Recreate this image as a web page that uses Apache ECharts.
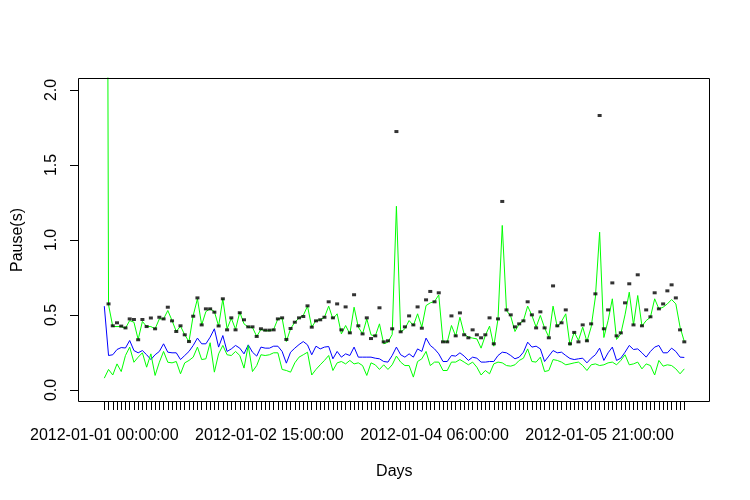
<!DOCTYPE html>
<html><head><meta charset="utf-8">
<script src="https://cdn.jsdelivr.net/npm/echarts@6/dist/echarts.min.js"></script>
<style>html,body{margin:0;padding:0;background:#fff}#c{width:750px;height:500px}</style>
</head><body><div id="c"></div>
<script>
// ---- data ----
const startTime = '2012-01-01T00:00:00Z';
const hourCount = 138;
const labelEvery = 39;
const yTicks = [0, 0.5, 1, 1.5, 2];

const points = [null,0.574,0.428,0.448,0.426,0.414,0.474,0.47,0.335,0.47,0.423,0.48,0.408,0.485,0.474,0.552,0.461,0.39,0.428,0.368,
0.323,0.492,0.614,0.434,0.541,0.541,0.519,0.427,0.608,0.401,0.481,0.401,0.515,0.468,0.421,0.421,0.357,0.408,0.399,0.399,
0.401,0.474,0.481,0.337,0.41,0.452,0.481,0.49,0.561,0.419,0.461,0.468,0.485,0.588,0.481,0.574,0.401,0.554,0.381,0.635,
0.428,0.374,0.481,0.343,0.361,0.548,0.321,0.328,0.408,1.723,0.388,0.421,0.494,0.434,0.554,0.412,0.601,0.657,0.588,0.648,
0.321,0.321,0.494,0.361,0.514,0.368,0.348,0.401,0.368,0.348,0.368,0.481,0.308,0.474,1.257,0.534,0.501,0.421,0.441,0.461,
0.588,0.501,0.414,0.521,0.414,0.348,0.694,0.428,0.448,0.534,0.308,0.384,0.321,0.434,0.328,0.441,0.641,1.83,0.408,0.534,
0.714,0.361,0.381,0.581,0.708,0.434,0.768,0.428,0.534,0.488,0.648,0.541,0.574,0.661,0.701,0.614,0.401,0.321];

const upper = [10.8,0.568,0.423,0.423,0.423,0.412,0.463,0.452,0.337,0.457,0.423,0.423,0.408,0.474,0.474,0.53,0.463,0.39,0.426,0.368,
0.323,0.497,0.608,0.434,0.523,0.541,0.523,0.426,0.608,0.408,0.479,0.404,0.519,0.441,0.419,0.417,0.357,0.404,0.395,0.395,
0.404,0.474,0.479,0.323,0.408,0.452,0.479,0.497,0.559,0.419,0.463,0.468,0.485,0.559,0.474,0.508,0.374,0.43,0.374,0.552,
0.419,0.374,0.474,0.368,0.359,0.441,0.308,0.319,0.37,1.225,0.386,0.408,0.463,0.43,0.508,0.419,0.563,0.581,0.59,0.634,
0.323,0.319,0.43,0.359,0.485,0.374,0.352,0.346,0.341,0.279,0.363,0.426,0.292,0.474,1.097,0.53,0.492,0.39,0.441,0.463,
0.559,0.497,0.419,0.497,0.414,0.352,0.559,0.419,0.457,0.508,0.297,0.386,0.33,0.419,0.323,0.42,0.62,1.052,0.35,0.463,
0.608,0.337,0.374,0.501,0.652,0.434,0.63,0.426,0.463,0.485,0.608,0.541,0.552,0.574,0.603,0.574,0.419,0.323];

const mean = [0.559,0.23,0.235,0.27,0.283,0.28,0.33,0.263,0.248,0.263,0.235,0.203,0.235,0.257,0.308,0.252,0.248,0.248,0.203,0.23,
0.257,0.297,0.346,0.308,0.308,0.352,0.408,0.286,0.363,0.257,0.274,0.297,0.279,0.241,0.301,0.252,0.226,0.286,0.279,0.279,
0.292,0.292,0.257,0.179,0.252,0.279,0.303,0.323,0.301,0.235,0.292,0.274,0.286,0.29,0.208,0.257,0.219,0.241,0.23,0.286,
0.219,0.219,0.219,0.219,0.212,0.208,0.19,0.186,0.23,0.286,0.235,0.219,0.241,0.219,0.274,0.257,0.346,0.297,0.274,0.241,
0.19,0.19,0.23,0.226,0.248,0.226,0.197,0.219,0.212,0.186,0.186,0.19,0.19,0.23,0.252,0.248,0.23,0.208,0.219,0.252,
0.319,0.286,0.292,0.274,0.19,0.226,0.263,0.248,0.252,0.23,0.21,0.203,0.208,0.212,0.181,0.212,0.235,0.279,0.197,0.248,
0.286,0.197,0.212,0.252,0.297,0.27,0.274,0.248,0.219,0.257,0.286,0.297,0.248,0.248,0.279,0.257,0.219,0.217];

const lower = [0.079,0.137,0.1,0.174,0.123,0.23,0.286,0.185,0.219,0.248,0.152,0.241,0.097,0.185,0.257,0.185,0.181,0.19,0.108,0.181,
0.197,0.219,0.286,0.203,0.208,0.315,0.119,0.241,0.297,0.235,0.23,0.257,0.23,0.146,0.297,0.123,0.163,0.235,0.23,0.235,
0.248,0.248,0.137,0.13,0.119,0.181,0.219,0.235,0.252,0.1,0.137,0.168,0.197,0.23,0.13,0.181,0.19,0.174,0.197,0.174,
0.181,0.163,0.097,0.181,0.168,0.137,0.168,0.137,0.168,0.226,0.186,0.163,0.163,0.086,0.19,0.208,0.257,0.163,0.186,0.186,
0.13,0.13,0.186,0.186,0.203,0.186,0.168,0.186,0.152,0.1,0.13,0.108,0.174,0.186,0.181,0.163,0.159,0.168,0.197,0.212,
0.274,0.19,0.186,0.219,0.123,0.13,0.203,0.197,0.186,0.168,0.174,0.181,0.186,0.163,0.13,0.168,0.174,0.163,0.168,0.181,
0.186,0.168,0.197,0.235,0.168,0.174,0.186,0.141,0.174,0.163,0.1,0.197,0.159,0.168,0.163,0.141,0.108,0.141];

// ---- categories (hourly timestamps) ----
function pad(n){return n<10?'0'+n:''+n;}
const categories = [];
const t0 = Date.parse(startTime);
for (let i = 0; i < hourCount; i++) {
  const d = new Date(t0 + i * 3600000);
  categories.push(d.getUTCFullYear() + '-' + pad(d.getUTCMonth()+1) + '-' + pad(d.getUTCDate()) + ' ' + pad(d.getUTCHours()) + ':00:00');
}

const font = '"Liberation Sans", Arial, sans-serif';
const chart = echarts.init(document.getElementById('c'), null, {renderer:'canvas'});
chart.setOption({
  animation: false,
  backgroundColor: '#ffffff',
  textStyle: {fontFamily: font},
  grid: [
    {left: 104.3, right: 65.7, top: 78, bottom: 98, show: false, containLabel: false},
    {left: 78.5, right: 40.5, top: 78.5, bottom: 98.5, show: true, borderColor: '#000', borderWidth: 1, backgroundColor: 'transparent', z: 10}
  ],
  xAxis: [
    {type: 'category', gridIndex: 0, data: categories, boundaryGap: false,
     axisLine: {show: false, onZero: false},
     axisTick: {show: true, interval: 0, length: 8, lineStyle: {color: '#000', width: 1}},
     axisLabel: {interval: function(idx){ return idx % labelEvery === 0; }, margin: 26, color: '#000', fontSize: 16, fontFamily: font, hideOverlap: false},
     splitLine: {show: false},
     name: 'Days', nameLocation: 'middle', nameGap: 62,
     nameTextStyle: {color: '#000', fontSize: 16, fontFamily: font}},
    {type: 'value', gridIndex: 1, show: false}
  ],
  yAxis: [
    {type: 'value', gridIndex: 0, min: -0.08, max: 2.08, offset: 26.3,
     axisLine: {show: false, onZero: false},
     axisTick: {show: true, length: 8, customValues: yTicks, lineStyle: {color: '#000', width: 1}},
     axisLabel: {customValues: yTicks, rotate: 90, margin: 18, color: '#000', fontSize: 16, fontFamily: font,
                 formatter: function(v){ return Number(v).toFixed(1); }},
     splitLine: {show: false},
     name: 'Pause(s)', nameLocation: 'middle', nameGap: 52, nameRotate: 90,
     nameTextStyle: {color: '#000', fontSize: 16, fontFamily: font}},
    {type: 'value', gridIndex: 1, show: false}
  ],
  series: [
    {type: 'line', name: 'upper', data: upper, symbol: 'none', clip: true,
     lineStyle: {color: '#00ff00', width: 1}, z: 2},
    {type: 'line', name: 'mean', data: mean, symbol: 'none', clip: true,
     lineStyle: {color: '#0000ff', width: 1}, z: 3},
    {type: 'line', name: 'lower', data: lower, symbol: 'none', clip: true,
     lineStyle: {color: '#00ff00', width: 1}, z: 4},
    {type: 'scatter', name: 'points', data: points, clip: true,
     symbol: 'rect', symbolSize: [4, 3],
     itemStyle: {color: '#000'}, z: 5}
  ]
});
</script></body></html>
